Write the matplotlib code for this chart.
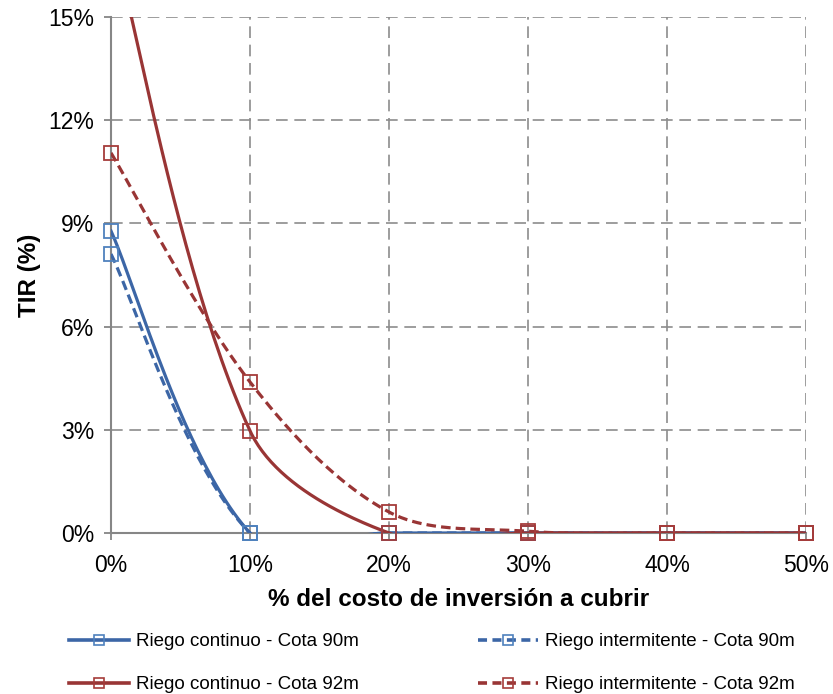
import numpy as np
import matplotlib
matplotlib.use("Agg")
import matplotlib.pyplot as plt
from matplotlib.ticker import FuncFormatter

plt.rcParams['font.family'] = ['Liberation Sans', 'DejaVu Sans']

# data
costo = [0, 10, 20, 30, 40, 50]
cont_90 = [8.78, 0.0, 0.0, 0.0, 0.0, 0.0]
inter_90 = [8.11, 0.0, 0.0, 0.0, 0.0, 0.0]
cont_92 = [17.5, 2.97, 0.0, 0.0, 0.0, 0.0]
inter_92 = [11.05, 4.39, 0.61, 0.05, 0.0, 0.0]
labels = ['Riego continuo - Cota 90m', 'Riego intermitente - Cota 90m',
          'Riego continuo - Cota 92m', 'Riego intermitente - Cota 92m']

blue = '#3C66A6'
blue_mk = '#4F81BD'
red = '#993535'
red_mk = '#A53C3A'

# pixel scale of the plot, used for excel-like smoothing
SX = 695 / 50.
SY = 516 / 15.


def smooth(x, y, n=50):
    # bezier segments, tangent from neighbours, split by chord length (like excel)
    p = np.column_stack([np.array(x) * SX, np.array(y) * SY]).astype(float)
    m = len(p)
    c_out = np.zeros_like(p)
    c_in = np.zeros_like(p)
    for i in range(m):
        if i == 0:
            c_out[i] = p[i] + (p[1] - p[0]) / 6
            continue
        if i == m - 1:
            c_in[i] = p[i] - (p[i] - p[i - 1]) / 6
            continue
        T = p[i + 1] - p[i - 1]
        d1 = np.hypot(*(p[i] - p[i - 1]))
        d2 = np.hypot(*(p[i + 1] - p[i]))
        c_out[i] = p[i] + T * d2 / (d1 + d2) / 3
        c_in[i] = p[i] - T * d1 / (d1 + d2) / 3
    t = np.linspace(0, 1, n)[:, None]
    out = []
    for i in range(m - 1):
        p0, c1, c2, p1 = p[i], c_out[i], c_in[i + 1], p[i + 1]
        out.append((1 - t) ** 3 * p0 + 3 * (1 - t) ** 2 * t * c1 + 3 * (1 - t) * t ** 2 * c2 + t ** 3 * p1)
    out = np.vstack(out)
    return out[:, 0] / SX, out[:, 1] / SY


fig = plt.figure(figsize=(8.33, 6.94), dpi=100)
ax = fig.add_axes([111 / 833, 1 - 533 / 694, 695 / 833, 516 / 694])

series = [(cont_90, blue, blue_mk, '-'), (inter_90, blue, blue_mk, '--'),
          (cont_92, red, red_mk, '-'), (inter_92, red, red_mk, '--')]
handles = []
for (vals, col, mcol, ls), lab in zip(series, labels):
    sx, sy = smooth(costo, vals)
    ln, = ax.plot(sx, sy, color=col, lw=2.3, zorder=3)
    if ls == '--':
        ln.set_dashes((3, 1.6))
    mx = [a for a, b in zip(costo, vals) if b <= 15]
    my = [b for b in vals if b <= 15]
    ax.plot(mx, my, ls='none', marker='s', ms=10, mfc='none', mec=mcol, mew=1.3,
            zorder=4, clip_on=False)
    h, = ax.plot([], [], color=col, lw=2.6, marker='s', ms=7.5, mfc='none', mec=mcol, mew=1.2,
                 label=lab)
    if ls == '--':
        h.set_dashes((2.5, 1.5))
    handles.append(h)

ax.set_xlim(0, 50)
ax.set_ylim(0, 15)
ax.set_xticks(range(0, 51, 10))
ax.set_yticks(range(0, 16, 3))
ax.xaxis.set_major_formatter(FuncFormatter(lambda v, p: '%d%%' % v))
ax.yaxis.set_major_formatter(FuncFormatter(lambda v, p: '%d%%' % v))
ax.tick_params(labelsize=16.5, color='#868686', length=5, width=1.3)
ax.tick_params(axis='x', pad=10)
ax.tick_params(axis='y', pad=7)
ax.grid(True, color='#8C8C8C', ls=(0, (7, 4)), lw=1.2)
for s in ['top', 'right']:
    ax.spines[s].set_visible(False)
for s in ['left', 'bottom']:
    ax.spines[s].set_color('#868686')
    ax.spines[s].set_linewidth(1.5)

ax.set_xlabel('% del costo de inversión a cubrir', fontsize=17.5, fontweight='bold', labelpad=8)
ax.set_ylabel('TIR (%)', fontsize=17.5, fontweight='bold', labelpad=5)

order = [handles[0], handles[2], handles[1], handles[3]]
fig.legend(order, [h.get_label() for h in order], ncol=2, loc='lower left',
           bbox_to_anchor=(68 / 833, 0.0), frameon=False, fontsize=13.5,
           handlelength=3.2, labelspacing=1.36, columnspacing=6.4, handletextpad=0.35,
           borderaxespad=0.0, borderpad=0.05)

fig.savefig('out.png', dpi=100)
